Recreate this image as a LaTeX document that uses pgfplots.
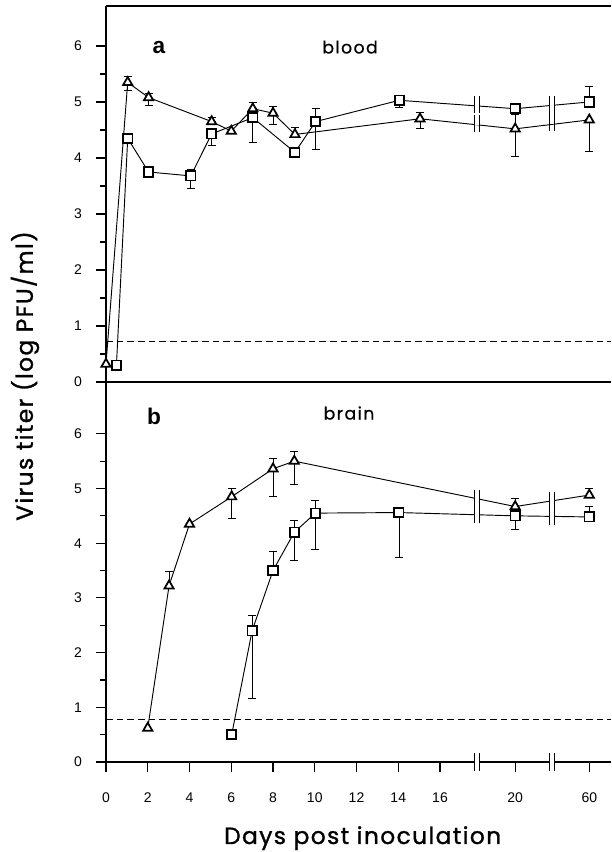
\documentclass[border=0pt]{standalone}
\usepackage{pgfplots}
\pgfplotsset{compat=1.18}
\usepackage{pgfplotstable}
\usepackage{fontspec}
\setmainfont{Liberation Sans}
\newfontfamily\geo[LetterSpace=6, FakeBold=1.2]{Poppins}
\newfontfamily\geolight[LetterSpace=8, FakeBold=0.6]{Poppins}

% x = position on the broken axis (20 days -> 19.6, 60 days -> 23.15)
\pgfplotstableread{
x     y     ep    em
0     0.32  0     0
1.04  5.35  0.10  0.14
2.04  5.08  0.08  0.14
5.06  4.65  0.07  0
6.0   4.48  0     0
7.03  4.88  0.12  0
8.0   4.80  0.12  0.20
9.05  4.42  0.12  0
15.04 4.70  0.12  0.18
19.6  4.52  0.28  0.50
23.15 4.68  0     0.57
}\bloodtri
\pgfplotstableread{
x     y     ep    em
0.5   0.30  0     0
1.04  4.35  0     0
2.04  3.75  0     0
4.06  3.68  0.12  0.22
5.06  4.43  0     0.20
7.03  4.72  0     0.45
9.05  4.10  0     0
10.04 4.65  0.24  0.50
14.05 5.03  0.05  0.12
19.6  4.88  0.08  0.10
23.15 5.00  0.28  0.10
}\bloodsq
\pgfplotstableread{
x     y     ep    em
2.0   0.62  0     0
3.02  3.22  0.26  0
4.0   4.35  0     0
6.02  4.85  0.16  0.40
8.0   5.36  0.19  0.51
9.02  5.50  0.17  0.42
19.6  4.67  0.15  0
23.15 4.88  0.12  0
}\braintri
\pgfplotstableread{
x     y     ep    em
6.02  0.50  0     0
7.0   2.40  0.28  1.24
8.0   3.50  0.35  0
9.02  4.20  0.22  0.51
10.03 4.55  0.24  0.66
14.03 4.56  0     0.82
19.6  4.50  0.10  0.24
23.15 4.48  0.20  0
}\brainsq

\newcommand\brk[3]{%
  \fill[white] ([shift={(-2.1pt,-1.6pt)}]axis cs:#1,#2) rectangle ([shift={(2.1pt,1.6pt)}]axis cs:#1,#2);
  \draw[line width=0.8pt] ([shift={(-2.1pt,-#3)}]axis cs:#1,#2) -- ([shift={(-2.1pt,#3)}]axis cs:#1,#2)
    ([shift={(2.1pt,-#3)}]axis cs:#1,#2) -- ([shift={(2.1pt,#3)}]axis cs:#1,#2);}

\pgfplotsset{
  panel/.style={
    width=378.75pt, scale only axis, anchor=south west,
    xmin=0, xmax=24.19, ymin=0, clip=false,
    axis lines=left, axis line style={-, line width=1.1pt},
    ytick={0,...,6}, minor ytick={0.5,1.5,...,5.5},
    tick align=outside, major tick length=7.5pt, minor tick length=4.5pt,
    tick style={line width=0.9pt, black},
    ticklabel style={font=\fontsize{10.5}{12}\selectfont},
    /pgf/number format/assume math mode=true,
    yticklabel style={xshift=-7pt},
  },
  tri/.style={black, line width=0.7pt, mark=triangle*, mark size=4pt,
    mark options={fill=white, line width=1.3pt},
    error bars/.cd, y dir=both, y explicit,
    error bar style={line width=0.6pt},
    error mark options={mark size=3pt, line width=0.6pt, rotate=90}},
  sq/.style={black, line width=0.7pt, mark=square*, mark size=3.5pt,
    mark options={fill=white, line width=1.3pt},
    error bars/.cd, y dir=both, y explicit,
    error bar style={line width=0.6pt},
    error mark options={mark size=3pt, line width=0.6pt, rotate=90}},
}

\begin{document}
\begin{tikzpicture}
\useasboundingbox (0,0) rectangle (458.25pt,639pt);

\begin{axis}[panel, at={(79.5pt,352.5pt)}, height=282pt, ymax=6.714, xtick=\empty,
  after end axis/.code={
    \draw[line width=1.1pt] (rel axis cs:0,1) -- (rel axis cs:1,1);
    \brk{17.77}{4.95}{6.5pt}\brk{17.77}{4.62}{6.5pt}
    \brk{21.37}{4.95}{6.5pt}\brk{21.37}{4.64}{6.5pt}
  }]
\addplot[black, line width=0.7pt, dash pattern=on 5pt off 3pt] coordinates {(0,0.73) (24.19,0.73)};
\addplot[tri] table[x=x, y=y, y error plus=ep, y error minus=em] {\bloodtri};
\addplot[sq] table[x=x, y=y, y error plus=ep, y error minus=em] {\bloodsq};
\node[font=\bfseries\fontsize{17}{19}\selectfont] at (axis cs:2.54,5.98) {a};
\node[font=\geolight\fontsize{13}{15}\selectfont] at (axis cs:11.69,5.98) {blood};
\end{axis}

\begin{axis}[panel, at={(79.5pt,67.5pt)}, height=285pt, ymax=6.947,
  xtick={0,2,...,16,19.6,23.15}, xticklabels={0,2,4,6,8,10,12,14,16,20,60},
  xticklabel style={yshift=-12pt},
  after end axis/.code={
    \brk{17.77}{4.81}{6.5pt}\brk{17.77}{4.52}{6.5pt}
    \brk{21.37}{4.77}{6.5pt}\brk{21.37}{4.49}{6.5pt}
    \brk{17.77}{0}{6.4pt}\brk{21.37}{0}{6.4pt}
  }]
\addplot[black, line width=0.7pt, dash pattern=on 5pt off 3pt] coordinates {(0,0.77) (24.19,0.77)};
\addplot[tri] table[x=x, y=y, y error plus=ep, y error minus=em] {\braintri};
\addplot[sq] table[x=x, y=y, y error plus=ep, y error minus=em] {\brainsq};
\node[font=\bfseries\fontsize{17}{19}\selectfont] at (axis cs:2.3,6.31) {b};
\node[font=\geolight\fontsize{13}{15}\selectfont] at (axis cs:11.64,6.38) {brain};
\end{axis}

\node[rotate=90, font=\geo\fontsize{17.5}{20}\selectfont] at (18.75pt,357pt) {Virus titer (log PFU/ml)};
\node[anchor=base, font=\geo\fontsize{17.5}{20}\selectfont] at (272pt,6pt) {Days post inoculation};
\end{tikzpicture}
\end{document}
